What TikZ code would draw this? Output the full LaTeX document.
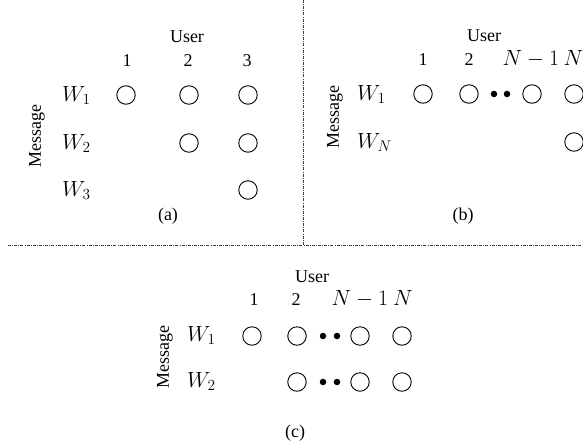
\RequirePackage{fix-cm}
\documentclass[tikz,border=0pt]{standalone}
\usepackage{fontspec}
\setmainfont{Liberation Serif}
\begin{document}
\begin{tikzpicture}[x=1pt,y=-1pt,
  txt/.style={font=\fontsize{18}{20}\selectfont, inner sep=0pt, anchor=base},
  num/.style={font=\fontsize{18}{20}\selectfont, inner sep=0pt, anchor=base},
  mnum/.style={font=\fontsize{22}{24}\selectfont, inner sep=0pt, anchor=base},
  wlab/.style={font=\fontsize{22}{24}\selectfont, inner sep=0pt, anchor=base west},
  msg/.style={font=\fontsize{18}{20}\selectfont, inner sep=0pt, rotate=90},
  cell/.style={circle, draw, line width=0.9pt, minimum size=18.5pt, inner sep=0pt},
  dot/.style={circle, fill, minimum size=6.5pt, inner sep=0pt},
  divider/.style={line width=0.6pt, black!75, dash pattern=on 3pt off 1.2pt on 0.8pt off 1.2pt}]
\useasboundingbox (0,0) rectangle (583,445);
% dividers
\coordinate (vt) at (303,0);
\coordinate (vb) at (303,245);
\coordinate (hl) at (8,245);
\coordinate (hr) at (583,245);
\draw[divider] (vt) -- (vb);
\draw[divider] (hl) -- (hr);
% ---------- (a)
\node[txt] (aUser) at (187,42) {User};
\node[num] (a1) at (127,66) {1};
\node[num] (a2) at (188,66) {2};
\node[num] (a3) at (247,66) {3};
\node[wlab] (aW1) at (62,101.5) {$W_1$};
\node[wlab] (aW2) at (62,149) {$W_2$};
\node[wlab] (aW3) at (62,196.5) {$W_3$};
\node[msg] (aMsg) at (37,136) {Message};
\node[cell] (a11) at (126,95) {};
\node[cell] (a12) at (189,95) {};
\node[cell] (a13) at (248,95) {};
\node[cell] (a22) at (189,143) {};
\node[cell] (a23) at (248,143) {};
\node[cell] (a33) at (248,190) {};
\node[txt] (acap) at (168,220) {(a)};
% ---------- (b)
\node[txt] (bUser) at (484,41) {User};
\node[num] (b1) at (423,65) {1};
\node[num] (b2) at (469,65) {2};
\node[mnum] (bN1) at (531,65) {$N-1$};
\node[mnum] (bN) at (573.5,65) {$N$};
\node[wlab] (bW1) at (357,100.5) {$W_1$};
\node[wlab] (bWN) at (357,148) {$W_N$};
\node[msg] (bMsg) at (335,117) {Message};
\node[cell] (b11) at (423,94) {};
\node[cell] (b12) at (469,94) {};
\node[dot] (bd1) at (494,94) {};
\node[dot] (bd2) at (507,94) {};
\node[cell] (b1m) at (532,94) {};
\node[cell] (b1n) at (574,94) {};
\node[cell] (bNn) at (574,142) {};
\node[txt] (bcap) at (463,220) {(b)};
% ---------- (c)
\node[txt] (cUser) at (312,282) {User};
\node[num] (c1) at (254,305) {1};
\node[num] (c2) at (296,305) {2};
\node[mnum] (cN1) at (360,305) {$N-1$};
\node[mnum] (cN) at (403,305) {$N$};
\node[wlab] (cW1) at (187,341) {$W_1$};
\node[wlab] (cW2) at (187,387) {$W_2$};
\node[msg] (cMsg) at (165,357) {Message};
\node[cell] (c11) at (252,336) {};
\node[cell] (c12) at (297,336) {};
\node[dot] (cd11) at (323,336) {};
\node[dot] (cd12) at (337,336) {};
\node[cell] (c1m) at (360,336) {};
\node[cell] (c1n) at (402,336) {};
\node[cell] (c22) at (297,382) {};
\node[dot] (cd21) at (323,382) {};
\node[dot] (cd22) at (337,382) {};
\node[cell] (c2m) at (360,382) {};
\node[cell] (c2n) at (402,382) {};
\node[txt] (ccap) at (295,437) {(c)};
\end{tikzpicture}
\end{document}
